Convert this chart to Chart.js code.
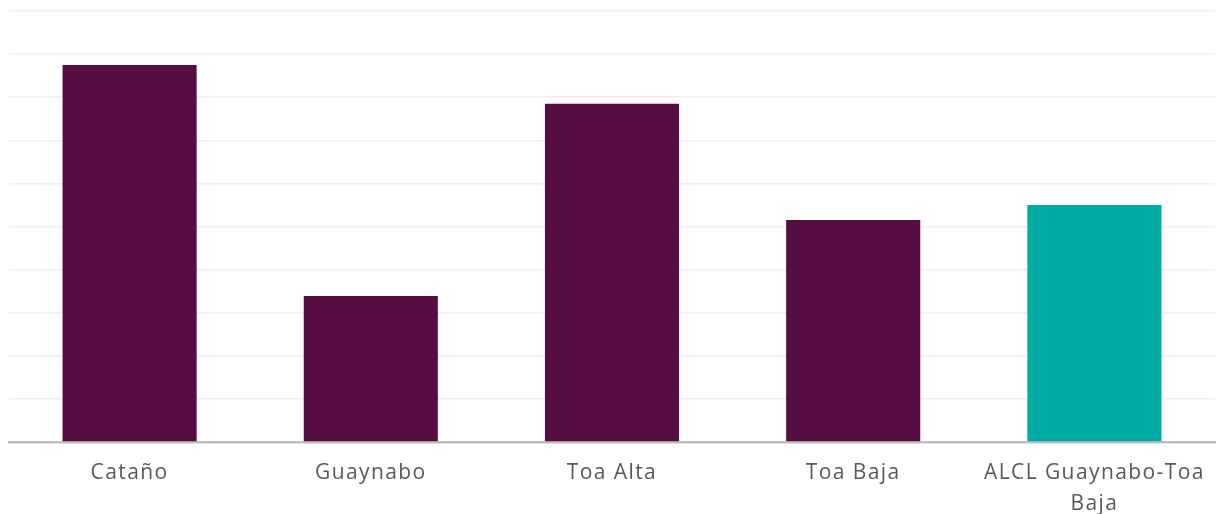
<!DOCTYPE html>
<html>
<head>
<meta charset="utf-8">
<script src="https://cdn.jsdelivr.net/npm/chart.js@4/dist/chart.umd.min.js"></script>
<style>
html,body{margin:0;padding:0;background:#fff;}
#wrap{width:1217px;height:514px;position:relative;}
</style>
</head>
<body>
<div id="wrap"><canvas id="c" width="1217" height="514"></canvas></div>
<script>
const categories = ['Cataño', 'Guaynabo', 'Toa Alta', 'Toa Baja', ['ALCL Guaynabo-Toa', 'Baja']];
const values = [17.5, 6.78, 15.7, 10.3, 11.0];
const barColors = ['#560E42', '#560E42', '#560E42', '#560E42', '#00ABA5'];
const yMin = 0, yMax = 20, yStep = 2;

const spacingPlugin = {
  id: 'spacing',
  beforeDraw(chart) { chart.ctx.letterSpacing = '1.4px'; }
};

new Chart(document.getElementById('c'), {
  type: 'bar',
  data: {
    labels: categories,
    datasets: [{
      data: values,
      backgroundColor: barColors,
      borderWidth: 0,
      barPercentage: 0.556,
      categoryPercentage: 1.0
    }]
  },
  plugins: [spacingPlugin],
  options: {
    responsive: false,
    animation: false,
    devicePixelRatio: 1,
    layout: { padding: { left: 9, right: 2, top: 11, bottom: 0 } },
    plugins: { legend: { display: false }, tooltip: { enabled: false } },
    scales: {
      x: {
        grid: { display: false },
        border: { display: true, color: '#BFBFBF', width: 2.5 },
        ticks: {
          color: '#595959',
          font: { family: '"Open Sans", sans-serif', size: 21, lineHeight: 1.47 },
          padding: 8,
          maxRotation: 0,
          autoSkip: false
        },
        afterFit: s => { s.height = 72; }
      },
      y: {
        min: yMin, max: yMax,
        ticks: { display: false, stepSize: yStep },
        grid: { color: '#EFEFEF', lineWidth: 1.5, drawTicks: false },
        border: { display: false }
      }
    }
  }
});
</script>
</body>
</html>
